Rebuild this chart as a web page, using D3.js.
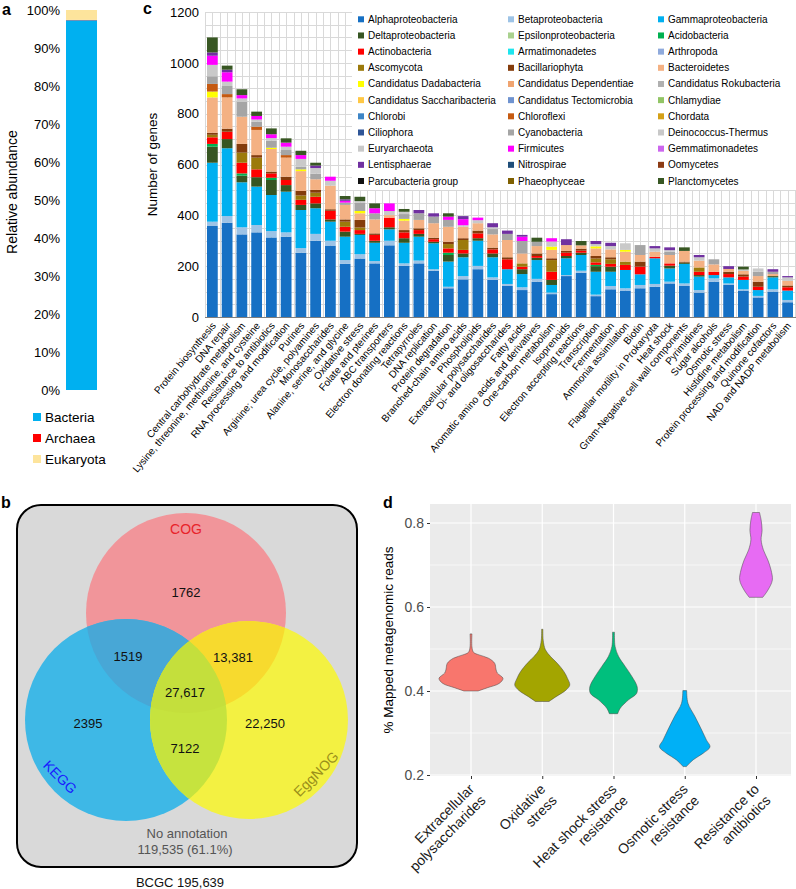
<!DOCTYPE html>
<html><head><meta charset="utf-8">
<script src="https://cdn.jsdelivr.net/npm/d3@7"></script>
<style>
body{margin:0;background:#fff}
svg{display:block;font-family:"Liberation Sans",Arial,Helvetica,sans-serif}
</style>
</head><body>
<svg id="fig" width="796" height="889"></svg>
<script>
// ---------------- Panel a data ----------------
const domainNames = ["Bacteria", "Archaea", "Eukaryota"];
const domainShare = [97.3, 0.1, 2.6];
const domainColors = ["#00b0f0", "#ff0000", "#fde49c"];
const aTicks = [0, 10, 20, 30, 40, 50, 60, 70, 80, 90, 100];

// ---------------- Panel c data ----------------
const functions = ["Protein biosynthesis","DNA repair","Central carbohydrate metabolism","Lysine, threonine, methionine, and cysteine","Resistance to antibiotics","RNA processing and modification","Purines","Arginine; urea cycle, polyamines","Monosaccharides","Alanine, serine, and glycine","Oxidative stress","Folate and pterines","ABC transporters","Electron donating reactions","Tetrapyrroles","DNA replication","Protein degradation","Branched-chain amino acids","Phospholipids","Extracellular polysaccharides","Di- and oligosaccharides","Fatty acids","Aromatic amino acids and derivatives","One-carbon metabolism","Isoprenoids","Electron accepting reactions","Transcription","Fermentation","Ammonia assimilation","Biotin","Flagellar motility in Prokaryota","Heat shock","Gram-Negative cell wall components","Pyrimidines","Sugar alcohols","Osmotic stress","Histidine metabolism","Protein processing and modification","Quinone cofactors","NAD and NADP metabolism"];

const taxa = ["Alphaproteobacteria","Betaproteobacteria","Gammaproteobacteria","Deltaproteobacteria","Epsilonproteobacteria","Acidobacteria","Actinobacteria","Armatimonadetes","Arthropoda","Ascomycota","Bacillariophyta","Bacteroidetes","Candidatus Dadabacteria","Candidatus Dependentiae","Candidatus Rokubacteria","Candidatus Saccharibacteria","Candidatus Tectomicrobia","Chlamydiae","Chlorobi","Chloroflexi","Chordata","Ciliophora","Cyanobacteria","Deinococcus-Thermus","Euryarchaeota","Firmicutes","Gemmatimonadetes","Lentisphaerae","Nitrospirae","Oomycetes","Parcubacteria group","Phaeophyceae","Planctomycetes"];
const taxaColors = ["#1670c4","#9dc3e6","#00b0f0","#375623","#a9d18e","#00b050","#ff0000","#1ee5ee","#8faadc","#9c7a0b","#843c0c","#f4b183","#ffff00","#f0a470","#b0b0b0","#ffc845","#6f93d0","#92c565","#3d85c6","#c55a11","#d4a017","#2f5597","#a5a5a5","#c8c8c8","#c9c9c9","#ff00ff","#cc66ee","#7030a0","#1f4e79","#8c3b14","#111111","#7f6000","#385723"];

const alphaproteobacteria = [358,371,325,333,313,316,253,300,281,209,230,211,282,201,211,182,113,148,188,146,122,106,139,90,161,174,82,109,104,113,119,132,122,96,139,126,104,77,100,58];
const betaproteobacteria = [17,26,28,29,25,17,18,27,19,15,17,9,18,10,11,6,6,13,13,10,8,11,11,6,4,8,6,13,9,13,11,7,10,10,13,6,5,6,9,9];
const gammaproteobacteria = [232,267,177,151,142,160,150,101,75,92,76,72,45,81,94,102,99,74,99,79,58,52,74,30,66,62,90,56,72,42,101,52,77,53,13,24,37,23,47,37];
const deltaproteobacteria = [63,36,26,37,59,26,20,19,9,20,4,8,8,18,11,6,26,15,10,15,0,19,9,20,9,9,22,20,0,0,0,11,5,6,0,0,0,0,5,0];
const acidobacteria = [11,0,9,0,9,0,0,0,0,0,0,0,0,0,0,0,9,0,0,0,0,0,0,0,0,0,5,0,0,0,0,0,0,0,0,0,0,0,0,0];
const actinobacteria = [26,29,42,31,17,20,20,26,34,19,15,23,38,23,15,10,17,14,19,16,39,10,7,32,13,8,10,11,20,30,6,9,0,13,13,13,13,13,0,13];
const ascomycota = [10,0,40,46,0,0,17,16,0,20,10,0,0,0,0,0,17,39,0,0,0,13,0,46,0,0,15,18,13,0,0,0,0,17,0,0,0,0,0,0];
const bacillariophyta = [8,12,34,10,7,13,18,11,6,9,30,6,0,9,7,6,9,7,11,7,8,0,10,7,7,8,10,8,0,20,0,0,4,0,0,9,9,20,0,7];
const bacteroidetes = [139,123,107,99,89,75,78,42,93,57,26,55,10,37,33,57,59,45,29,52,68,39,29,33,23,13,30,31,39,26,20,33,42,27,29,11,13,22,8,18];
const dadabacteria = [23,0,0,0,5,0,7,0,0,0,9,0,0,7,0,0,0,0,0,0,0,0,0,13,0,0,8,0,7,0,0,0,0,0,0,0,0,0,0,0];
const chloroflexi = [30,13,0,13,0,10,0,0,0,0,0,0,0,0,0,0,0,0,0,0,0,0,0,0,0,0,0,0,0,0,0,0,0,0,0,0,0,0,0,0];
const cyanobacteria = [30,32,59,19,28,20,10,22,0,9,33,24,0,19,26,26,27,0,0,21,24,49,17,0,0,0,0,0,0,39,0,13,0,0,20,0,0,17,9,0];
const euryarchaeota = [45,17,13,9,10,13,31,22,19,0,6,0,16,9,0,0,0,6,12,7,0,0,0,20,0,0,9,13,26,0,13,6,0,13,0,0,6,13,0,14];
const firmicutes = [36,37,13,14,15,16,15,0,16,7,0,20,30,0,0,0,13,24,10,0,0,17,0,13,0,0,0,0,0,0,0,0,0,0,0,0,0,0,0,0];
const lentisphaerae = [13,10,0,0,0,0,0,10,0,6,0,0,0,0,13,13,0,12,0,16,13,7,0,0,23,0,12,13,0,0,9,11,0,9,0,11,0,0,10,5];
const planctomycetes = [59,16,23,17,23,17,17,11,0,13,17,19,0,11,0,0,13,0,0,0,0,0,16,0,0,17,0,0,0,0,0,0,14,0,0,0,11,0,0,0];
const cTicks = [0, 200, 400, 600, 800, 1000, 1200];

const plottedTaxa = [
  ["Alphaproteobacteria", alphaproteobacteria],
  ["Betaproteobacteria", betaproteobacteria],
  ["Gammaproteobacteria", gammaproteobacteria],
  ["Deltaproteobacteria", deltaproteobacteria],
  ["Acidobacteria", acidobacteria],
  ["Actinobacteria", actinobacteria],
  ["Ascomycota", ascomycota],
  ["Bacillariophyta", bacillariophyta],
  ["Bacteroidetes", bacteroidetes],
  ["Candidatus Dadabacteria", dadabacteria],
  ["Chloroflexi", chloroflexi],
  ["Cyanobacteria", cyanobacteria],
  ["Euryarchaeota", euryarchaeota],
  ["Firmicutes", firmicutes],
  ["Lentisphaerae", lentisphaerae],
  ["Planctomycetes", planctomycetes]
];

// ---------------- Panel b data ----------------
const vennSets = ["COG", "KEGG", "EggNOG"];
const vennSetColors = ["#e8232a", "#1a1aff", "#9a8f1a"];
const vennRegions = ["COG only", "COG & KEGG", "COG & EggNOG", "All three", "KEGG only", "EggNOG only", "KEGG & EggNOG"];
const vennCounts = [1762, 1519, 13381, 27617, 2395, 22250, 7122];
const noAnnotation = 119535;
const noAnnotationPct = 61.1;
const bcgcTotal = 195639;

// ---------------- Panel d data ----------------
const violinCats = ["Extracellular polysaccharides", "Oxidative stress", "Heat shock stress resistance", "Osmotic stress resistance", "Resistance to antibiotics"];
const violinLabelLines = [["Extracellular","polysaccharides"],["Oxidative","stress"],["Heat shock stress","resistance"],["Osmotic stress","resistance"],["Resistance to","antibiotics"]];
const violinColors = ["#F8766D", "#A3A500", "#00BF7D", "#00B0F6", "#E76BF3"];
// [mapped reads %, relative density]
const violinExtracellular = [[0.400,0.22],[0.408,0.52],[0.418,0.88],[0.430,1.0],[0.443,0.82],[0.452,0.78],[0.466,0.74],[0.478,0.55],[0.486,0.25],[0.492,0.08],[0.505,0.03],[0.536,0.03]];
const violinOxidative = [[0.375,0.21],[0.386,0.42],[0.402,0.74],[0.414,0.86],[0.430,0.79],[0.446,0.68],[0.466,0.47],[0.482,0.26],[0.498,0.10],[0.521,0.03],[0.547,0.02]];
const violinHeatShock = [[0.346,0.13],[0.359,0.21],[0.379,0.47],[0.394,0.72],[0.410,0.74],[0.434,0.58],[0.458,0.37],[0.482,0.16],[0.506,0.05],[0.540,0.03]];
const violinOsmotic = [[0.220,0.05],[0.236,0.26],[0.252,0.58],[0.267,0.79],[0.283,0.68],[0.307,0.53],[0.339,0.32],[0.371,0.10],[0.401,0.06]];
const violinAntibiotics = [[0.623,0.21],[0.640,0.37],[0.664,0.51],[0.688,0.47],[0.712,0.37],[0.736,0.23],[0.760,0.16],[0.783,0.19],[0.807,0.16],[0.825,0.11]];
const violinProfiles = [violinExtracellular, violinOxidative, violinHeatShock, violinOsmotic, violinAntibiotics];
const dMajorTicks = [0.2, 0.4, 0.6, 0.8];
const dMinorTicks = [0.3, 0.5, 0.7];

// =====================================================
const svg = d3.select("#fig");
const FONT = '"Liberation Sans",Arial,Helvetica,sans-serif';

function panelLetter(t, x, y) {
  svg.append("text").attr("x", x).attr("y", y).attr("font-size", 16).attr("font-weight", "bold").text(t);
}

// ---------------- Panel a ----------------
(function () {
  const g = svg.append("g");
  const y = d3.scaleLinear().domain([0, 100]).range([390, 10]);
  const x = d3.scaleBand().domain(["sample"]).range([66, 97]);
  const row = { sample: "sample" };
  domainNames.forEach((k, i) => row[k] = domainShare[i]);
  const stack = d3.stack().keys(domainNames)([row]);
  g.selectAll("g.layer").data(stack).join("g").attr("fill", (d, i) => domainColors[i])
    .selectAll("rect").data(d => d).join("rect")
    .attr("x", x("sample")).attr("width", x.bandwidth())
    .attr("y", d => y(d[1])).attr("height", d => y(d[0]) - y(d[1]));
  const ax = g.append("g").attr("transform", "translate(66,0)")
    .call(d3.axisLeft(y).tickValues(aTicks).tickSize(0).tickPadding(6).tickFormat(d => d + "%"));
  ax.select(".domain").remove();
  ax.selectAll("text").attr("font-size", 13).attr("font-family", FONT).attr("fill", "#000");
  g.append("text").attr("transform", "translate(17,192) rotate(-90)").attr("text-anchor", "middle")
    .attr("font-size", 14).text("Relative abundance");
  const leg = g.selectAll("g.leg").data(domainNames).join("g")
    .attr("transform", (d, i) => `translate(33,${417 + i * 21})`);
  leg.append("rect").attr("x", 0).attr("y", -4).attr("width", 8).attr("height", 8).attr("fill", (d, i) => domainColors[i]);
  leg.append("text").attr("x", 12).attr("dy", "0.36em").attr("font-size", 13.5).text(d => d);
  panelLetter("a", 2, 15);
})();

// ---------------- Panel c ----------------
(function () {
  const g = svg.append("g");
  const left = 205, right = 795, top = 12, bottom = 317;
  const y = d3.scaleLinear().domain([0, 1200]).range([bottom, top]);
  const x = d3.scaleBand().domain(functions).range([left, right]).paddingInner(0.27).paddingOuter(0.135);
  const step = x.step();
  // grid
  const grid = g.append("g").attr("stroke", "#d9d9d9").attr("stroke-width", 1);
  grid.selectAll("line.h").data(d3.range(0, 1201, 50)).join("line")
    .attr("x1", left).attr("x2", 796).attr("y1", d => Math.round(y(d)) + 0.5).attr("y2", d => Math.round(y(d)) + 0.5);
  const vx = [];
  functions.forEach(f => { const c = x(f) + x.bandwidth() / 2; vx.push(c - step / 2, c); });
  vx.push(right);
  grid.selectAll("line.v").data(vx).join("line")
    .attr("x1", d => Math.round(d) + 0.5).attr("x2", d => Math.round(d) + 0.5).attr("y1", top).attr("y2", bottom);
  // legend background
  g.append("rect").attr("x", 352).attr("y", 6).attr("width", 444).attr("height", 184).attr("fill", "#fff");
  // stacked bars
  const rows = functions.map((f, i) => {
    const r = { fn: f };
    plottedTaxa.forEach(([k, arr]) => r[k] = arr[i]);
    return r;
  });
  const stack = d3.stack().keys(plottedTaxa.map(p => p[0]))(rows);
  g.selectAll("g.layer").data(stack).join("g")
    .attr("fill", d => taxaColors[taxa.indexOf(d.key)])
    .selectAll("rect").data(d => d).join("rect")
    .attr("x", d => x(d.data.fn)).attr("width", x.bandwidth())
    .attr("y", d => y(d[1])).attr("height", d => Math.max(0, y(d[0]) - y(d[1])));
  // axis line
  g.append("line").attr("x1", left).attr("x2", 796).attr("y1", bottom + 0.5).attr("y2", bottom + 0.5)
    .attr("stroke", "#7f7f7f").attr("stroke-width", 1.2);
  // y axis
  const ay = g.append("g").attr("transform", `translate(${left},0)`)
    .call(d3.axisLeft(y).tickValues(cTicks).tickSize(0).tickPadding(6).tickFormat(d3.format("d")));
  ay.select(".domain").remove();
  ay.selectAll("text").attr("font-size", 13).attr("font-family", FONT).attr("fill", "#000");
  g.append("text").attr("transform", `translate(157,${(top + bottom) / 2}) rotate(-90)`)
    .attr("text-anchor", "middle").attr("font-size", 13.5).text("Number of genes");
  // x labels
  g.selectAll("text.xl").data(functions).join("text")
    .attr("transform", d => `translate(${x(d) + x.bandwidth() / 2 + 4},${bottom + 9}) rotate(-50)`)
    .attr("text-anchor", "end").attr("font-size", 10).text(d => d);
  // legend
  const leg = g.selectAll("g.leg").data(taxa).join("g")
    .attr("transform", (d, i) => `translate(${358 + (i % 3) * 150},${19.3 + Math.floor(i / 3) * 16.17})`);
  leg.append("rect").attr("x", 0).attr("y", -3).attr("width", 6).attr("height", 6).attr("fill", (d, i) => taxaColors[i]);
  leg.append("text").attr("x", 10).attr("dy", "0.35em").attr("font-size", 10).text(d => d);
  panelLetter("c", 143, 14);
})();

// ---------------- Panel b ----------------
(function () {
  const g = svg.append("g");
  const fmt = n => n >= 10000 ? d3.format(",")(n) : String(n);
  g.append("rect").attr("x", 17).attr("y", 505).attr("width", 340).attr("height", 362).attr("rx", 24)
    .attr("fill", "#d9d9d9").attr("stroke", "#000").attr("stroke-width", 2);
  const circles = { COG: [186, 613, 100], KEGG: [126, 720, 101], EggNOG: [249, 720, 99] };
  const defs = svg.append("defs");
  Object.entries(circles).forEach(([k, c]) => {
    defs.append("clipPath").attr("id", "clip-" + k).append("circle").attr("cx", c[0]).attr("cy", c[1]).attr("r", c[2]);
  });
  const circ = (sel, k, fill) => sel.append("circle").attr("cx", circles[k][0]).attr("cy", circles[k][1]).attr("r", circles[k][2]).attr("fill", fill);
  circ(g, "COG", "#f1959a");
  circ(g, "KEGG", "#3eb8e6");
  circ(g, "EggNOG", "#f3f142");
  circ(g.append("g").attr("clip-path", "url(#clip-COG)"), "KEGG", "#48a7d6");
  circ(g.append("g").attr("clip-path", "url(#clip-COG)"), "EggNOG", "#f7da2e");
  circ(g.append("g").attr("clip-path", "url(#clip-KEGG)"), "EggNOG", "#c6e33e");
  circ(g.append("g").attr("clip-path", "url(#clip-COG)").append("g").attr("clip-path", "url(#clip-KEGG)"), "EggNOG", "#c4df3c");
  const regionPos = [[186, 592], [128, 656], [233, 657], [185, 692], [88, 723], [265, 723], [185, 748]];
  g.selectAll("text.cnt").data(vennCounts).join("text")
    .attr("x", (d, i) => regionPos[i][0]).attr("y", (d, i) => regionPos[i][1]).attr("dy", "0.35em")
    .attr("text-anchor", "middle").attr("font-size", 13).attr("fill", "#111").text(fmt);
  const setLabelPos = [[186, 529, 0], [60, 777, 45], [316, 774, -45]];
  g.selectAll("text.set").data(vennSets).join("text")
    .attr("transform", (d, i) => `translate(${setLabelPos[i][0]},${setLabelPos[i][1]}) rotate(${setLabelPos[i][2]})`)
    .attr("dy", "0.35em").attr("text-anchor", "middle").attr("font-size", 14).attr("fill", (d, i) => vennSetColors[i]).text(d => d);
  g.append("text").attr("x", 187).attr("y", 833).attr("dy", "0.35em").attr("text-anchor", "middle")
    .attr("font-size", 13).attr("fill", "#555").text("No annotation");
  g.append("text").attr("x", 185).attr("y", 849).attr("dy", "0.35em").attr("text-anchor", "middle")
    .attr("font-size", 13).attr("fill", "#555").text(`${fmt(noAnnotation)} (${noAnnotationPct}%)`);
  g.append("text").attr("x", 180).attr("y", 882).attr("dy", "0.35em").attr("text-anchor", "middle")
    .attr("font-size", 13).attr("fill", "#111").text(`BCGC ${fmt(bcgcTotal)}`);
  panelLetter("b", 1, 508);
})();

// ---------------- Panel d ----------------
(function () {
  const g = svg.append("g");
  const left = 430, right = 791, top = 504, bottom = 776;
  const y = d3.scaleLinear().domain([0.2, 0.8]).range([775, 523]);
  const x = d3.scalePoint().domain(violinCats).range([471, 756]);
  const w = d3.scaleLinear().domain([0, 1]).range([0, 32]);
  g.append("rect").attr("x", left).attr("y", top).attr("width", right - left).attr("height", bottom - top).attr("fill", "#ebebeb");
  g.selectAll("line.minor").data(dMinorTicks).join("line")
    .attr("x1", left).attr("x2", right).attr("y1", d => y(d)).attr("y2", d => y(d)).attr("stroke", "#fff").attr("stroke-width", 0.6);
  g.selectAll("line.major").data(dMajorTicks).join("line")
    .attr("x1", left).attr("x2", right).attr("y1", d => y(d)).attr("y2", d => y(d)).attr("stroke", "#fff").attr("stroke-width", 1.2);
  g.selectAll("line.vx").data(violinCats).join("line")
    .attr("x1", d => x(d)).attr("x2", d => x(d)).attr("y1", top).attr("y2", bottom).attr("stroke", "#fff").attr("stroke-width", 1.2);
  // violins
  violinCats.forEach((c, i) => {
    const cx = x(c);
    const area = d3.area().curve(d3.curveCatmullRom)
      .y(d => y(d[0])).x0(d => cx - w(d[1])).x1(d => cx + w(d[1]));
    g.append("path").attr("d", area(violinProfiles[i])).attr("fill", violinColors[i])
      .attr("stroke", "#444").attr("stroke-width", 0.5);
  });
  // axes
  const ay = g.append("g").attr("transform", `translate(${left},0)`)
    .call(d3.axisLeft(y).tickValues(dMajorTicks).tickSize(3).tickPadding(3).tickFormat(d3.format(".1f")));
  ay.select(".domain").remove();
  ay.selectAll("line").attr("stroke", "#333");
  ay.selectAll("text").attr("font-size", 14).attr("font-family", FONT).attr("fill", "#4d4d4d");
  const ax = g.append("g").attr("transform", `translate(0,${bottom})`)
    .call(d3.axisBottom(x).tickSize(3).tickFormat(""));
  ax.select(".domain").remove();
  ax.selectAll("line").attr("stroke", "#333");
  const lab = g.selectAll("text.xl").data(violinCats).join("text")
    .attr("transform", d => `translate(${x(d) + 4},${bottom + 14}) rotate(-45)`)
    .attr("text-anchor", "end").attr("font-size", 14).attr("fill", "#1a1a1a");
  lab.selectAll("tspan").data((d, i) => violinLabelLines[i].map((t, j) => [t, j])).join("tspan")
    .attr("x", 0).attr("dy", d => d[1] === 0 ? 0 : "1.15em").text(d => d[0]);
  g.append("text").attr("transform", `translate(393,640) rotate(-90)`).attr("text-anchor", "middle")
    .attr("font-size", 13.5).text("% Mapped metagenomic reads");
  panelLetter("d", 383, 508);
})();
</script>
</body></html>
